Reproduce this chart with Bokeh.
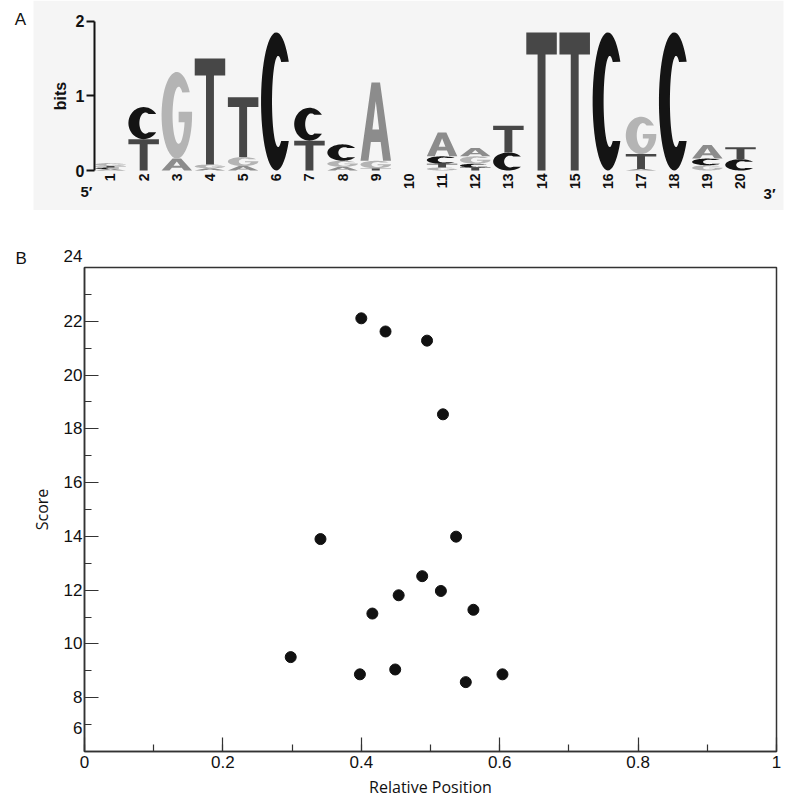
import numpy as np
from bokeh.plotting import figure
from bokeh.models import (Range1d, LinearAxis, FixedTicker, SingleIntervalTicker, Title,
                          BoxAnnotation, ColumnDataSource, CustomJSTickFormatter)
from bokeh.core.properties import value
from bokeh.embed import file_html
from bokeh.resources import INLINE

# ---------------- data ----------------
positions = list(range(1, 21))
# information content (bits) of each base at each motif position
bits_A = [0.02, 0.00, 0.16, 0.03, 0.06, 0.00, 0.00, 0.05, 1.05, 0.00,
          0.32, 0.11, 0.00, 0.00, 0.00, 0.00, 0.02, 0.00, 0.18, 0.00]
bits_C = [0.02, 0.43, 0.00, 0.00, 0.00, 1.85, 0.44, 0.22, 0.00, 0.00,
          0.10, 0.05, 0.24, 0.00, 0.00, 1.85, 0.00, 1.85, 0.09, 0.15]
bits_G = [0.04, 0.00, 1.16, 0.05, 0.12, 0.00, 0.00, 0.08, 0.10, 0.00,
          0.04, 0.10, 0.00, 0.00, 0.00, 0.00, 0.50, 0.00, 0.07, 0.00]
bits_T = [0.02, 0.42, 0.00, 1.42, 0.80, 0.00, 0.40, 0.00, 0.03, 0.00,
          0.05, 0.04, 0.36, 1.85, 1.85, 0.00, 0.20, 0.00, 0.00, 0.16]
bits_ticks = [0, 1, 2]

rel_pos = [0.400, 0.435, 0.495, 0.518, 0.341, 0.537, 0.488, 0.454,
           0.515, 0.416, 0.562, 0.298, 0.398, 0.449, 0.551, 0.604]
score = [22.11, 21.62, 21.28, 18.54, 13.90, 13.99, 12.52, 11.81,
         11.97, 11.13, 11.27, 9.51, 8.87, 9.05, 8.58, 8.87]
score_min, score_max = 6, 24

# ---------------- letter outlines in a unit box ----------------
def arc(cx, cy, rx, ry, a0, a1, n=48):
    t = np.radians(np.linspace(a0, a1, n))
    return list(cx + rx * np.cos(t)), list(cy + ry * np.sin(t))

def shape_T():
    x = [0, 1, 1, 0.63, 0.63, 0.37, 0.37, 0]
    y = [1, 1, 0.84, 0.84, 0, 0, 0.84, 0.84]
    return [(x, y)]

def shape_A():
    ox = [0, 0.36, 0.64, 1, 0.74, 0.66, 0.34, 0.26]
    oy = [0, 1, 1, 0, 0, 0.24, 0.24, 0]
    hx = [0.39, 0.61, 0.5]
    hy = [0.40, 0.40, 0.76]
    return [(ox, oy), (hx, hy)]

def shape_C():
    x1, y1 = arc(0.5, 0.5, 0.5, 0.5, 35, 325)
    x2, y2 = arc(0.56, 0.5, 0.2, 0.33, 300, 60)
    return [(x1 + x2, y1 + y2)]

def shape_G():
    x1, y1 = arc(0.5, 0.5, 0.5, 0.5, 32, 360)
    bx = [1.0, 0.56, 0.56]
    by = [0.54, 0.54, 0.42]
    x2, y2 = arc(0.56, 0.5, 0.2, 0.33, 346, 53)
    return [(x1 + bx + x2, y1 + by + y2)]

shapes = {"A": shape_A(), "C": shape_C(), "G": shape_G(), "T": shape_T()}
colors = {"A": "#8c8c8c", "C": "#141414", "G": "#b4b4b4", "T": "#474747"}

W = 0.92
xs, ys, fills = [], [], []
for k, pos in enumerate(positions):
    col = [("A", bits_A[k]), ("C", bits_C[k]), ("G", bits_G[k]), ("T", bits_T[k])]
    col = sorted([c for c in col if c[1] > 0], key=lambda c: c[1])
    base = 0.0
    for letter, h in col:
        rings_x, rings_y = [], []
        for ux, uy in shapes[letter]:
            rings_x.append([pos - W / 2 + u * W for u in ux])
            rings_y.append([base + v * h for v in uy])
        xs.append([rings_x])
        ys.append([rings_y])
        fills.append(colors[letter])
        base += h

logo_src = ColumnDataSource(dict(xs=xs, ys=ys, fill=fills))

# ---------------- panel A: sequence logo ----------------
pA = figure(width=792, height=210, x_range=Range1d(-2.3174, 21.5683),
            y_range=Range1d(-0.5358, 2.2773), output_backend="svg", toolbar_location=None,
            x_axis_type=None, y_axis_type=None,
            min_border_left=0, min_border_right=0, min_border_top=0, min_border_bottom=0)
pA.outline_line_color = None

pA.add_layout(BoxAnnotation(left=-1.322, right=21.297, fill_color="#f5f5f5",
                            fill_alpha=1.0, line_color=None, level="underlay"))

pA.multi_polygons(xs="xs", ys="ys", source=logo_src, fill_color="fill", line_color=None)

axA = LinearAxis(bounds=(0, 2), ticker=FixedTicker(ticks=bits_ticks), axis_label="bits",
                 fixed_location=0.5175)
axA.axis_line_width = 2
axA.axis_line_color = "#111111"
axA.major_tick_in = 0
axA.major_tick_out = 8
axA.major_tick_line_width = 2
axA.major_tick_line_color = "#111111"
axA.minor_tick_line_color = None
axA.major_label_standoff = 2
axA.major_label_text_font = "Liberation Sans"
axA.major_label_text_font_style = "bold"
axA.major_label_text_font_size = "16px"
axA.major_label_text_color = "#111111"
axA.axis_label_text_font = "Liberation Sans"
axA.axis_label_text_font_style = "bold"
axA.axis_label_text_font_size = "16px"
axA.axis_label_standoff = 4
axA.axis_label_text_color = "#111111"
pA.add_layout(axA, "left")

pA.text(x=positions, y=[0] * len(positions), text=[str(p) for p in positions],
        angle=np.pi / 2, y_offset=3, text_align="right", text_baseline="middle",
        text_font=value("Liberation Sans"), text_font_style="bold",
        text_font_size="14px", text_color="#111111")

end_x = [0.276, 20.875]
end_y = [-0.28, -0.31]
end_t = ["5\u2032", "3\u2032"]
pA.text(x=end_x, y=end_y, text=end_t, text_align="center", text_baseline="middle",
        text_font=value("Liberation Sans"), text_font_style="bold",
        text_font_size="15px", text_color="#111111")
pA.text(x=[-1.714], y=[2.02], text=["A"], text_align="center", text_baseline="middle",
        text_font=value("Liberation Sans"), text_font_style="normal",
        text_font_size="17px", text_color="#111111")

# ---------------- panel B: scatter ----------------
pB = figure(width=792, height=590, x_range=Range1d(0, 1), y_range=Range1d(score_min, score_max),
            output_backend="svg", toolbar_location=None,
            min_border_left=84, min_border_right=16, min_border_top=57, min_border_bottom=49)
pB.grid.visible = False
pB.outline_line_color = "#333333"
pB.outline_line_width = 1.5

pB.scatter(x=rel_pos, y=score, size=11, fill_color="#111111", line_color="#111111")

for ax in (pB.xaxis[0], pB.yaxis[0]):
    ax.axis_line_color = "#333333"
    ax.axis_line_width = 1.5
    ax.major_tick_in = 14
    ax.major_tick_out = 0
    ax.minor_tick_in = 7
    ax.minor_tick_out = 0
    ax.major_tick_line_color = "#333333"
    ax.minor_tick_line_color = "#333333"
    ax.major_tick_line_width = 1.2
    ax.minor_tick_line_width = 1.2
    ax.major_label_text_font = "Liberation Sans"
    ax.major_label_text_font_size = "17px"
    ax.major_label_text_color = "#111111"
    ax.axis_label_text_font = "Open Sans"
    ax.axis_label_text_font_style = "normal"
    ax.axis_label_text_font_size = "16px"
    ax.axis_label_text_color = "#111111"

pB.xaxis[0].ticker = SingleIntervalTicker(interval=0.2, num_minor_ticks=2)
pB.xaxis[0].formatter = CustomJSTickFormatter(code="return (Math.round(tick*10)/10).toString()")
pB.xaxis[0].axis_label = "Relative Position"
pB.xaxis[0].major_label_standoff = 4
pB.xaxis[0].axis_label_standoff = 5

# end labels are nudged upward (as in the original) so "6" clears the x-axis "0"
pB.yaxis[0].ticker = SingleIntervalTicker(interval=2, num_minor_ticks=2)
pB.yaxis[0].formatter = CustomJSTickFormatter(
    args=dict(lo=score_min, hi=score_max),
    code="""const s = tick.toFixed(0);
if (tick == lo) return s + '\\n \\n ';
if (tick == hi) return s + '\\n ';
return s;""")
pB.yaxis[0].axis_label = "Score"
pB.yaxis[0].major_label_standoff = 2
pB.yaxis[0].axis_label_standoff = 8

pB.add_layout(Title(text="B", align="left", offset=-69, standoff=0, vertical_align="bottom",
                    text_font="Liberation Sans", text_font_style="normal",
                    text_font_size="17px", text_color="#111111"), "above")

open("out.html", "w").write(file_html([pA, pB], INLINE))
